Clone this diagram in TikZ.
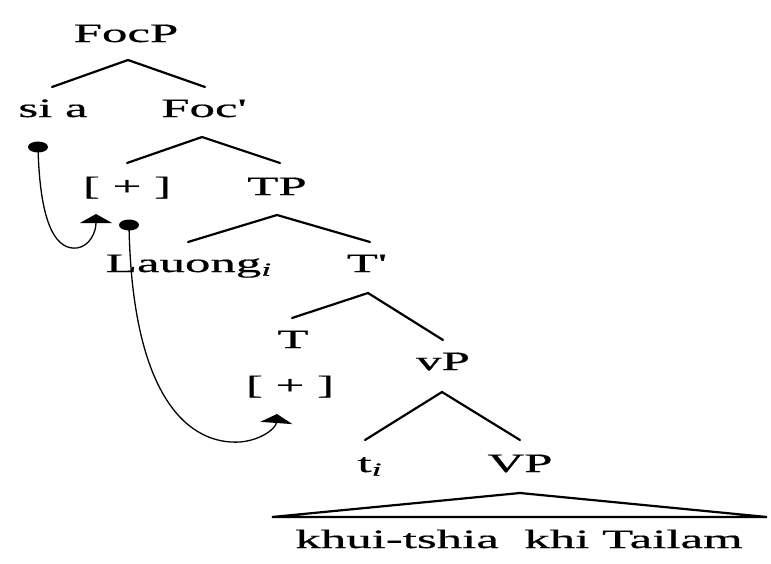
\documentclass[tikz,border=0pt]{standalone}
\usepackage{fontspec}
\setmainfont[FakeBold=0.5,Ligatures=TeXOff]{Liberation Serif}
\usepackage{graphicx}
\usetikzlibrary{arrows.meta}
\newcommand{\wt}[1]{\scalebox{1.92}[1]{#1}}
\tikzset{
  lbl/.style={anchor=base, inner sep=0pt, font=\fontsize{26.5}{30}\selectfont},
  branch/.style={line width=2.2pt, line cap=round},
  move/.style={line width=1.3pt, -{Triangle[width=32pt,length=9pt]}},
  dotmark/.style={fill=black}
}
\begin{document}
\begin{tikzpicture}[x=1pt,y=-1pt]
\useasboundingbox (0,0) rectangle (771,563);
% labels
\node[lbl] (FocP) at (126,42) {\wt{FocP}};
\node[lbl] (sia) at (53,117) {\wt{si\ a}};
\node[lbl] (Focb) at (204,117) {\wt{Foc'}};
\node[lbl] (plus1) at (127,195) {\wt{[ + ]}};
\node[lbl] (TP) at (277,195) {\wt{TP}};
\node[lbl] (Lauong) at (189,272) {\wt{Lauong\textsubscript{\textit{i}}}};
\node[lbl] (Tb) at (367,272) {\wt{T'}};
\node[lbl] (T) at (293,348) {\wt{T}};
\node[lbl] (vP) at (443,370) {\wt{vP}};
\node[lbl] (plus2) at (290,394) {\wt{[ + ]}};
\node[lbl] (ti) at (370,472) {\wt{t\textsubscript{\textit{i}}}};
\node[lbl] (VP) at (520,472) {\wt{VP}};
\node[lbl] (words) at (519,548) {\wt{khui-tshia\ \ khi\ Tailam}};
% branch points
\coordinate (a1) at (128,60); \coordinate (l1) at (52,87); \coordinate (r1) at (205,87);
\coordinate (a2) at (202,137); \coordinate (l2) at (127,163); \coordinate (r2) at (280,163);
\coordinate (a3) at (277,215); \coordinate (l3) at (188,242); \coordinate (r3) at (370,242);
\coordinate (a4) at (368,293); \coordinate (l4) at (292,318); \coordinate (r4) at (443,340);
\coordinate (a5) at (442,392); \coordinate (l5) at (365,440); \coordinate (r5) at (520,440);
\coordinate (a6) at (520,493); \coordinate (l6) at (272,517); \coordinate (r6) at (767,517);
\draw[branch] (l1) -- (a1) -- (r1);
\draw[branch] (l2) -- (a2) -- (r2);
\draw[branch] (l3) -- (a3) -- (r3);
\draw[branch] (l4) -- (a4) -- (r4);
\draw[branch] (l5) -- (a5) -- (r5);
\draw[line width=2.2pt, line join=miter] (l6) -- (a6) -- (r6) -- cycle;
% movement arrows
\coordinate (d1) at (38,147);
\coordinate (d2) at (129,225);
\coordinate (t1) at (96,214);
\coordinate (t2) at (277,414);
\draw[move] (d1) .. controls (40,230) and (58,250) .. (77,248) .. controls (90,246) and (96,232) .. (t1);
\draw[move] (d2) .. controls (132,400) and (190,445) .. (240,442) .. controls (262,440) and (276,428) .. (t2);
\fill[dotmark] (d1) ellipse [x radius=10, y radius=5.5];
\fill[dotmark] (d2) ellipse [x radius=10, y radius=5.5];
\end{tikzpicture}
\end{document}
